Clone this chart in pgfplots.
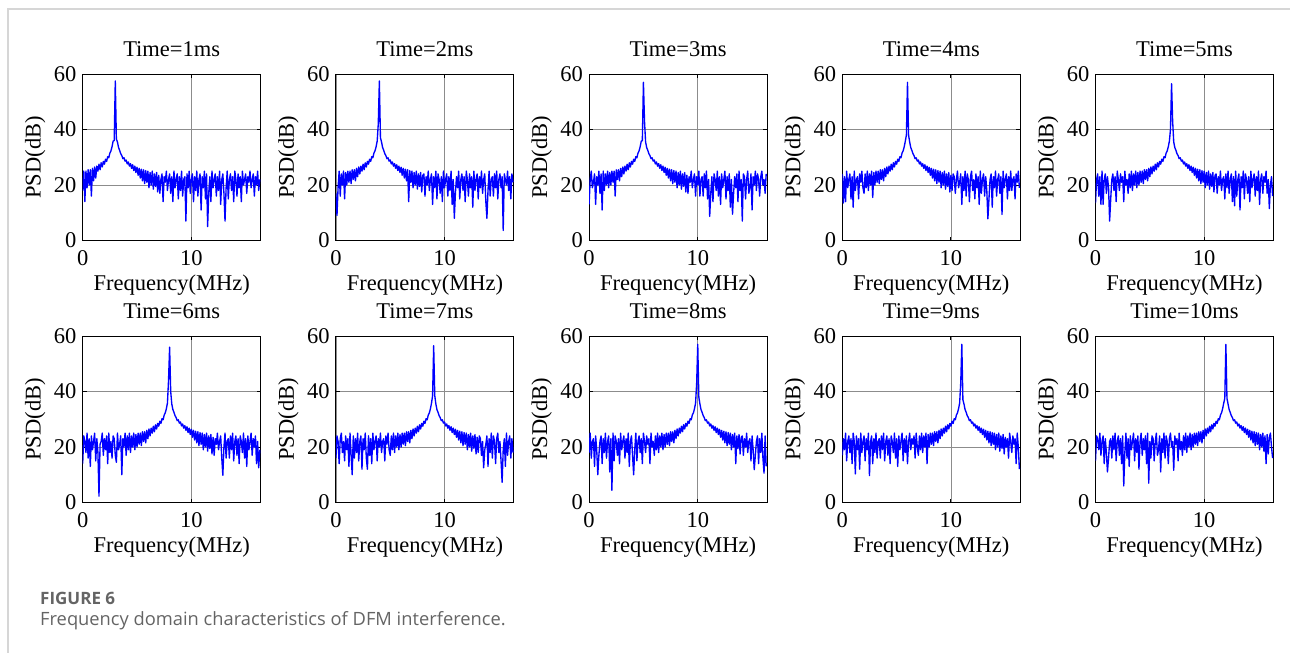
\documentclass[border=0pt]{standalone}
\usepackage{fontspec}
\setmainfont{Liberation Serif}
\newfontfamily\capfont{Open Sans}
\usepackage{pgfplots}
\pgfplotsset{compat=1.18}
\definecolor{psdblue}{RGB}{0,0,255}
\definecolor{capgray}{RGB}{100,100,100}
\newcommand\chartfont{\fontsize{22.5}{26}\selectfont}
\pgfplotsset{
  psd/.style={
    scale only axis, width=178pt, height=166.5pt, anchor=north west,
    xmin=0, xmax=16.384, ymin=0, ymax=60,
    xtick={0,10}, ytick={0,20,40,60},
    grid=major, major grid style={line width=0.7pt, draw=black!45},
    axis line style={line width=1pt, black},
    tick align=inside, major tick length=4pt,
    every tick/.style={black, line width=1pt},
    /pgf/number format/assume math mode=true,
    tick label style={font=\chartfont},
    every axis title/.style={at={(0.5,1)}, anchor=base, yshift=17.3pt, inner sep=0pt, font=\chartfont},
    every axis x label/.style={at={(0.5,0)}, anchor=base, yshift=-50pt, inner sep=0pt, font=\chartfont},
    every axis y label/.style={at={(0,0.5)}, anchor=base, xshift=-42pt, rotate=90, inner sep=0pt, font=\chartfont},
    xticklabel style={anchor=base, yshift=-24.5pt, inner sep=0pt},
    yticklabel style={anchor=east, xshift=-6pt, inner sep=0pt},
    xlabel={Frequency(MHz)}, ylabel={PSD(dB)},
  },
  psdline/.style={color=psdblue, line width=1.35pt, line join=round, mark=none},
}
\begin{document}
\begin{tikzpicture}
\useasboundingbox (0,0) rectangle (1290pt,-653pt);
\draw[line width=1.5pt, color=black!16] (8pt,-653pt) -- (8pt,-9pt) -- (1290pt,-9pt);

\begin{axis}[psd, at={(82.7pt,-74pt)}, title={Time=1ms}]
\addplot[psdline] coordinates {
(0,18)(0.1,25)(0.2,14)(0.3,25)(0.4,19)(0.5,25.5)(0.6,20)(0.7,25.5)(0.8,16)(0.9,26)
(1,21.5)(1.1,26.5)(1.2,22.5)(1.3,26.8)(1.4,25)(1.5,27.5)(1.6,25.5)(1.7,28)(1.8,26.5)(1.9,28.5)
(2,27.5)(2.1,29.3)(2.2,28.5)(2.3,30.2)(2.4,29.8)(2.5,31.5)(2.6,32.3)(2.7,33.8)(2.8,35.8)(2.9,36)
(3,57.5)(3.1,36.5)(3.2,35.5)(3.3,33.5)(3.4,32.5)(3.5,31.3)(3.6,30.6)(3.7,29.5)(3.8,29.8)(3.9,28.6)
(4,29)(4.1,27.6)(4.2,28.3)(4.3,26.8)(4.4,27.7)(4.5,26)(4.6,27.3)(4.7,25.2)(4.8,26.8)(4.9,24.5)
(5,26.4)(5.1,23.5)(5.2,26)(5.3,22.5)(5.4,25.7)(5.5,21.5)(5.6,25.5)(5.7,20.5)(5.8,25.2)(5.9,21)
(6,25)(6.1,19)(6.2,24.5)(6.3,20)(6.4,25)(6.5,18.5)(6.6,24)(6.7,19.5)(6.8,24.5)(6.9,17.5)
(7,23.5)(7.1,17)(7.2,22)(7.3,24)(7.4,14)(7.5,23)(7.6,21)(7.7,25)(7.8,18)(7.9,22)
(8,24)(8.1,17)(8.2,23)(8.3,14)(8.4,25)(8.5,19)(8.6,22)(8.7,24)(8.8,15)(8.9,23)
(9,18)(9.1,25)(9.2,16)(9.3,22)(9.4,23)(9.5,7)(9.6,24)(9.7,19)(9.8,25)(9.9,17)
(10,22)(10.1,24)(10.2,14)(10.3,23)(10.4,18)(10.5,25)(10.6,16)(10.7,22)(10.8,24)(10.9,11)
(11,23)(11.1,19)(11.2,25)(11.3,15)(11.4,24)(11.5,5)(11.6,17)(11.7,23)(11.8,14)(11.9,25)
(12,19)(12.1,22)(12.2,24)(12.3,16)(12.4,23)(12.5,18)(12.6,25)(12.7,13)(12.8,22)(12.9,24)
(13,17)(13.1,7)(13.2,19)(13.3,25)(13.4,15)(13.5,22)(13.6,24)(13.7,18)(13.8,23)(13.9,14)
(14,25)(14.1,22)(14.2,16)(14.3,24)(14.4,19)(14.5,23)(14.6,14)(14.7,25)(14.8,20)(14.9,22)
(15,24)(15.1,17)(15.2,23)(15.3,21)(15.4,25)(15.5,19)(15.6,22)(15.7,24)(15.8,16)(15.9,23)
(16,20)(16.1,25)(16.2,18)(16.3,22)
};
\end{axis}

\begin{axis}[psd, at={(335.9pt,-74pt)}, title={Time=2ms}]
\addplot[psdline] coordinates {
(0,17)(0.1,9)(0.2,19)(0.3,25)(0.4,16)(0.5,24)(0.6,20)(0.7,25)(0.8,15)(0.9,24.5)
(1,20)(1.1,25)(1.2,21)(1.3,25)(1.4,20.5)(1.5,25.5)(1.6,22)(1.7,25.5)(1.8,21.5)(1.9,26)
(2,23)(2.1,26.5)(2.2,24)(2.3,26.8)(2.4,25)(2.5,27.5)(2.6,25.5)(2.7,28)(2.8,26.5)(2.9,28.5)
(3,27.5)(3.1,29.3)(3.2,28.5)(3.3,30.2)(3.4,29.8)(3.5,31.5)(3.6,32.3)(3.7,33.8)(3.8,35.8)(3.9,42)
(4,57.5)(4.1,37)(4.2,35.5)(4.3,33.5)(4.4,32.5)(4.5,31.3)(4.6,30.6)(4.7,29.5)(4.8,29.8)(4.9,28.6)
(5,29)(5.1,27.6)(5.2,28.3)(5.3,26.8)(5.4,27.7)(5.5,26)(5.6,27.3)(5.7,25.2)(5.8,26.8)(5.9,24.5)
(6,26.4)(6.1,23.5)(6.2,26)(6.3,22.5)(6.4,25.7)(6.5,21.5)(6.6,25.5)(6.7,14)(6.8,25.2)(6.9,21)
(7,25)(7.1,19)(7.2,24.5)(7.3,20)(7.4,25)(7.5,18.5)(7.6,24)(7.7,19.5)(7.8,24.5)(7.9,17.5)
(8,23.5)(8.1,24)(8.2,16)(8.3,23)(8.4,20)(8.5,25)(8.6,18)(8.7,22)(8.8,24)(8.9,13)
(9,23)(9.1,19)(9.2,25)(9.3,15)(9.4,24)(9.5,22)(9.6,17)(9.7,23)(9.8,14)(9.9,25)
(10,19)(10.1,22)(10.2,24)(10.3,16)(10.4,23)(10.5,18)(10.6,25)(10.7,13)(10.8,22)(10.9,8)
(11,17)(11.1,23)(11.2,19)(11.3,25)(11.4,15)(11.5,22)(11.6,24)(11.7,18)(11.8,23)(11.9,14)
(12,25)(12.1,22)(12.2,16)(12.3,24)(12.4,19)(12.5,23)(12.6,12)(12.7,25)(12.8,18)(12.9,22)
(13,24)(13.1,15)(13.2,23)(13.3,19)(13.4,25)(13.5,17)(13.6,22)(13.7,24)(13.8,14)(13.9,8)
(14,18)(14.1,25)(14.2,16)(14.3,22)(14.4,23)(14.5,16)(14.6,24)(14.7,19)(14.8,25)(14.9,15)
(15,22)(15.1,24)(15.2,19)(15.3,23)(15.4,3.6)(15.5,24)(15.6,22)(15.7,20)(15.8,25)(15.9,18)
(16,23)(16.1,15)(16.2,24)(16.3,21)
};
\end{axis}

\begin{axis}[psd, at={(589.1pt,-74pt)}, title={Time=3ms}]
\addplot[psdline] coordinates {
(0,13)(0.1,22)(0.2,25)(0.3,19)(0.4,21)(0.5,24)(0.6,13)(0.7,23)(0.8,20)(0.9,25)
(1,17)(1.1,24)(1.2,11)(1.3,25)(1.4,18)(1.5,24)(1.6,20)(1.7,25)(1.8,19)(1.9,24.5)
(2,20)(2.1,25)(2.2,21)(2.3,25)(2.4,16)(2.5,25.5)(2.6,22)(2.7,25.5)(2.8,21.5)(2.9,26)
(3,23)(3.1,26.5)(3.2,24)(3.3,26.8)(3.4,25)(3.5,27.5)(3.6,25.5)(3.7,28)(3.8,26.5)(3.9,28.5)
(4,27.5)(4.1,29.3)(4.2,28.5)(4.3,30.2)(4.4,29.8)(4.5,31.5)(4.6,32.3)(4.7,33.8)(4.8,35.8)(4.9,36)
(5,57)(5.1,43)(5.2,35.5)(5.3,33.5)(5.4,32.5)(5.5,31.3)(5.6,30.6)(5.7,29.5)(5.8,29.8)(5.9,28.6)
(6,29)(6.1,27.6)(6.2,28.3)(6.3,26.8)(6.4,27.7)(6.5,26)(6.6,27.3)(6.7,25.2)(6.8,26.8)(6.9,24.5)
(7,26.4)(7.1,23.5)(7.2,26)(7.3,22.5)(7.4,25.7)(7.5,21.5)(7.6,25.5)(7.7,20.5)(7.8,25.2)(7.9,21)
(8,25)(8.1,19)(8.2,24.5)(8.3,20)(8.4,25)(8.5,18.5)(8.6,24)(8.7,19.5)(8.8,24.5)(8.9,17.5)
(9,23.5)(9.1,17)(9.2,23)(9.3,21)(9.4,25)(9.5,19)(9.6,22)(9.7,24)(9.8,16)(9.9,23)
(10,20)(10.1,25)(10.2,16)(10.3,22)(10.4,23)(10.5,16)(10.6,24)(10.7,19)(10.8,25)(10.9,15)
(11,22)(11.1,8.7)(11.2,17)(11.3,23)(11.4,14)(11.5,24)(11.6,22)(11.7,18)(11.8,25)(11.9,16)
(12,23)(12.1,13)(12.2,24)(12.3,19)(12.4,22)(12.5,25)(12.6,15)(12.7,23)(12.8,18)(12.9,24)
(13,12)(13.1,22)(13.2,9.5)(13.3,17)(13.4,23)(13.5,19)(13.6,24)(13.7,14)(13.8,25)(13.9,18)
(14,22)(14.1,7)(14.2,24)(14.3,23)(14.4,15)(14.5,22)(14.6,25)(14.7,17)(14.8,19)(14.9,24)
(15,11)(15.1,23)(15.2,20)(15.3,25)(15.4,18)(15.5,24)(15.6,22)(15.7,16)(15.8,23)(15.9,25)
(16,20)(16.1,22)(16.2,17)(16.3,24)
};
\end{axis}

\begin{axis}[psd, at={(842.3pt,-74pt)}, title={Time=4ms}]
\addplot[psdline] coordinates {
(0,24)(0.1,13.5)(0.2,23)(0.3,14)(0.4,25)(0.5,19)(0.6,22)(0.7,24)(0.8,15)(0.9,23)
(1,12)(1.1,25)(1.2,18)(1.3,22)(1.4,23)(1.5,15)(1.6,24)(1.7,21)(1.8,25)(1.9,19)
(2,17)(2.1,24)(2.2,19)(2.3,25)(2.4,18)(2.5,24)(2.6,20)(2.7,25)(2.8,15.5)(2.9,24.5)
(3,20)(3.1,25)(3.2,21)(3.3,25)(3.4,20.5)(3.5,25.5)(3.6,22)(3.7,25.5)(3.8,21.5)(3.9,26)
(4,23)(4.1,26.5)(4.2,24)(4.3,26.8)(4.4,25)(4.5,27.5)(4.6,25.5)(4.7,28)(4.8,26.5)(4.9,28.5)
(5,27.5)(5.1,29.3)(5.2,28.5)(5.3,30.2)(5.4,29.8)(5.5,31.5)(5.6,32.3)(5.7,33.8)(5.8,35.8)(5.9,38)
(6,57)(6.1,38)(6.2,35.5)(6.3,33.5)(6.4,32.5)(6.5,31.3)(6.6,30.6)(6.7,29.5)(6.8,29.8)(6.9,28.6)
(7,29)(7.1,27.6)(7.2,28.3)(7.3,26.8)(7.4,27.7)(7.5,26)(7.6,27.3)(7.7,25.2)(7.8,26.8)(7.9,24.5)
(8,26.4)(8.1,23.5)(8.2,26)(8.3,22.5)(8.4,25.7)(8.5,21.5)(8.6,25.5)(8.7,20.5)(8.8,25.2)(8.9,21)
(9,25)(9.1,19)(9.2,24.5)(9.3,20)(9.4,25)(9.5,18.5)(9.6,24)(9.7,19.5)(9.8,24.5)(9.9,17.5)
(10,23.5)(10.1,18)(10.2,24)(10.3,23)(10.4,17)(10.5,22)(10.6,25)(10.7,19)(10.8,21)(10.9,24)
(11,13)(11.1,23)(11.2,18)(11.3,25)(11.4,16)(11.5,24)(11.6,22)(11.7,14)(11.8,23)(11.9,25)
(12,18)(12.1,22)(12.2,15)(12.3,24)(12.4,19)(12.5,23)(12.6,13)(12.7,25)(12.8,17)(12.9,22)
(13,24)(13.1,16)(13.2,23)(13.3,18)(13.4,7.8)(13.5,15)(13.6,22)(13.7,24)(13.8,12)(13.9,23)
(14,19)(14.1,25)(14.2,16)(14.3,22)(14.4,24)(14.5,17)(14.6,23)(14.7,9.4)(14.8,25)(14.9,19)
(15,22)(15.1,24)(15.2,15)(15.3,23)(15.4,18)(15.5,25)(15.6,18)(15.7,22)(15.8,23)(15.9,15)
(16,24)(16.1,21)(16.2,25)(16.3,19)
};
\end{axis}

\begin{axis}[psd, at={(1095.5pt,-74pt)}, title={Time=5ms}]
\addplot[psdline] coordinates {
(0,13.5)(0.1,22)(0.2,24)(0.3,16)(0.4,23)(0.5,13)(0.6,25)(0.7,13)(0.8,22)(0.9,24)
(1,17)(1.1,23)(1.2,19)(1.3,7)(1.4,15)(1.5,22)(1.6,24)(1.7,18)(1.8,23)(1.9,14)
(2,25)(2.1,22)(2.2,18)(2.3,24)(2.4,21)(2.5,23)(2.6,14)(2.7,25)(2.8,20)(2.9,22)
(3,17)(3.1,24)(3.2,19)(3.3,25)(3.4,18)(3.5,24)(3.6,20)(3.7,25)(3.8,19)(3.9,24.5)
(4,20)(4.1,25)(4.2,21)(4.3,25)(4.4,20.5)(4.5,25.5)(4.6,22)(4.7,25.5)(4.8,21.5)(4.9,26)
(5,23)(5.1,26.5)(5.2,24)(5.3,26.8)(5.4,25)(5.5,27.5)(5.6,25.5)(5.7,28)(5.8,26.5)(5.9,28.5)
(6,27.5)(6.1,29.3)(6.2,28.5)(6.3,30.2)(6.4,29.8)(6.5,31.5)(6.6,32.3)(6.7,33.8)(6.8,35.8)(6.9,40)
(7,56.5)(7.1,43)(7.2,35.5)(7.3,33.5)(7.4,32.5)(7.5,31.3)(7.6,30.6)(7.7,29.5)(7.8,29.8)(7.9,28.6)
(8,29)(8.1,27.6)(8.2,28.3)(8.3,26.8)(8.4,27.7)(8.5,26)(8.6,27.3)(8.7,25.2)(8.8,26.8)(8.9,24.5)
(9,26.4)(9.1,23.5)(9.2,26)(9.3,22.5)(9.4,25.7)(9.5,21.5)(9.6,25.5)(9.7,20.5)(9.8,25.2)(9.9,21)
(10,25)(10.1,19)(10.2,24.5)(10.3,20)(10.4,25)(10.5,18.5)(10.6,24)(10.7,19.5)(10.8,24.5)(10.9,17.5)
(11,23.5)(11.1,24)(11.2,17)(11.3,23)(11.4,20)(11.5,25)(11.6,18)(11.7,22)(11.8,23)(11.9,15)
(12,24)(12.1,19)(12.2,25)(12.3,17)(12.4,22)(12.5,24)(12.6,14)(12.7,23)(12.8,12.5)(12.9,25)
(13,16)(13.1,22)(13.2,24)(13.3,11)(13.4,23)(13.5,19)(13.6,25)(13.7,15)(13.8,24)(13.9,22)
(14,17)(14.1,23)(14.2,14)(14.3,25)(14.4,19)(14.5,22)(14.6,24)(14.7,16)(14.8,23)(14.9,18)
(15,25)(15.1,13)(15.2,22)(15.3,24)(15.4,17)(15.5,23)(15.6,21)(15.7,25)(15.8,17)(15.9,22)
(16,11.5)(16.1,20)(16.2,23)(16.3,16)
};
\end{axis}

\begin{axis}[psd, at={(82.7pt,-336pt)}, title={Time=6ms}]
\addplot[psdline] coordinates {
(0,14)(0.1,24)(0.2,22)(0.3,18)(0.4,25)(0.5,16)(0.6,23)(0.7,13)(0.8,24)(0.9,19)
(1,22)(1.1,25)(1.2,15)(1.3,23)(1.4,18)(1.5,2.3)(1.6,21)(1.7,22)(1.8,25)(1.9,17)
(2,23)(2.1,19)(2.2,24)(2.3,14)(2.4,25)(2.5,18)(2.6,22)(2.7,16)(2.8,24)(2.9,23)
(3,17)(3.1,14.5)(3.2,25)(3.3,19)(3.4,21)(3.5,24)(3.6,10)(3.7,23)(3.8,20)(3.9,25)
(4,17)(4.1,24)(4.2,19)(4.3,25)(4.4,18)(4.5,24)(4.6,20)(4.7,25)(4.8,19)(4.9,24.5)
(5,20)(5.1,25)(5.2,21)(5.3,25)(5.4,20.5)(5.5,25.5)(5.6,22)(5.7,25.5)(5.8,21.5)(5.9,26)
(6,23)(6.1,26.5)(6.2,24)(6.3,26.8)(6.4,25)(6.5,27.5)(6.6,25.5)(6.7,28)(6.8,26.5)(6.9,28.5)
(7,27.5)(7.1,29.3)(7.2,28.5)(7.3,30.2)(7.4,29.8)(7.5,31.5)(7.6,32.3)(7.7,33.8)(7.8,35.8)(7.9,44)
(8,56)(8.1,40)(8.2,35.5)(8.3,33.5)(8.4,32.5)(8.5,31.3)(8.6,30.6)(8.7,29.5)(8.8,29.8)(8.9,28.6)
(9,29)(9.1,27.6)(9.2,28.3)(9.3,26.8)(9.4,27.7)(9.5,26)(9.6,27.3)(9.7,25.2)(9.8,26.8)(9.9,24.5)
(10,26.4)(10.1,23.5)(10.2,26)(10.3,22.5)(10.4,25.7)(10.5,21.5)(10.6,25.5)(10.7,20.5)(10.8,25.2)(10.9,21)
(11,25)(11.1,19)(11.2,24.5)(11.3,20)(11.4,25)(11.5,18.5)(11.6,24)(11.7,19.5)(11.8,24.5)(11.9,17.5)
(12,23.5)(12.1,17)(12.2,23)(12.3,21)(12.4,25)(12.5,19)(12.6,22)(12.7,24)(12.8,16)(12.9,9.8)
(13,20)(13.1,25)(13.2,16)(13.3,22)(13.4,23)(13.5,16)(13.6,24)(13.7,19)(13.8,25)(13.9,15)
(14,22)(14.1,24)(14.2,17)(14.3,23)(14.4,14)(14.5,24)(14.6,22)(14.7,18)(14.8,25)(14.9,16)
(15,23)(15.1,13)(15.2,24)(15.3,19)(15.4,22)(15.5,25)(15.6,17)(15.7,23)(15.8,20)(15.9,24)
(16,14)(16.1,22)(16.2,12.5)(16.3,19)
};
\end{axis}

\begin{axis}[psd, at={(335.9pt,-336pt)}, title={Time=7ms}]
\addplot[psdline] coordinates {
(0,16)(0.1,24)(0.2,22)(0.3,14)(0.4,23)(0.5,25)(0.6,18)(0.7,22)(0.8,15)(0.9,24)
(1,19)(1.1,23)(1.2,13)(1.3,25)(1.4,17)(1.5,10)(1.6,24)(1.7,16)(1.8,23)(1.9,18)
(2,25)(2.1,15)(2.2,22)(2.3,24)(2.4,12)(2.5,23)(2.6,19)(2.7,25)(2.8,16)(2.9,12)
(3,24)(3.1,17)(3.2,23)(3.3,14)(3.4,25)(3.5,19)(3.6,22)(3.7,24)(3.8,15)(3.9,23)
(4,20)(4.1,25)(4.2,18)(4.3,22)(4.4,23)(4.5,15)(4.6,24)(4.7,21)(4.8,25)(4.9,19)
(5,17)(5.1,24)(5.2,19)(5.3,25)(5.4,18)(5.5,24)(5.6,20)(5.7,25)(5.8,19)(5.9,24.5)
(6,20)(6.1,25)(6.2,21)(6.3,25)(6.4,20.5)(6.5,25.5)(6.6,22)(6.7,25.5)(6.8,21.5)(6.9,26)
(7,23)(7.1,26.5)(7.2,24)(7.3,26.8)(7.4,25)(7.5,27.5)(7.6,25.5)(7.7,28)(7.8,26.5)(7.9,28.5)
(8,27.5)(8.1,29.3)(8.2,28.5)(8.3,30.2)(8.4,29.8)(8.5,31.5)(8.6,32.3)(8.7,33.8)(8.8,35.8)(8.9,38.5)
(9,56.5)(9.1,38.5)(9.2,35.5)(9.3,33.5)(9.4,32.5)(9.5,31.3)(9.6,30.6)(9.7,29.5)(9.8,29.8)(9.9,28.6)
(10,29)(10.1,27.6)(10.2,28.3)(10.3,26.8)(10.4,27.7)(10.5,26)(10.6,27.3)(10.7,25.2)(10.8,26.8)(10.9,24.5)
(11,26.4)(11.1,23.5)(11.2,26)(11.3,22.5)(11.4,25.7)(11.5,21.5)(11.6,25.5)(11.7,20.5)(11.8,25.2)(11.9,21)
(12,25)(12.1,19)(12.2,24.5)(12.3,20)(12.4,25)(12.5,18.5)(12.6,24)(12.7,19.5)(12.8,24.5)(12.9,17.5)
(13,23.5)(13.1,18)(13.2,24)(13.3,23)(13.4,17)(13.5,22)(13.6,12.5)(13.7,19)(13.8,21)(13.9,24)
(14,13)(14.1,23)(14.2,18)(14.3,25)(14.4,16)(14.5,24)(14.6,22)(14.7,14)(14.8,23)(14.9,25)
(15,18)(15.1,22)(15.2,15)(15.3,7.3)(15.4,19)(15.5,23)(15.6,13)(15.7,25)(15.8,17)(15.9,22)
(16,24)(16.1,16)(16.2,23)(16.3,18)
};
\end{axis}

\begin{axis}[psd, at={(589.1pt,-336pt)}, title={Time=8ms}]
\addplot[psdline] coordinates {
(0,18)(0.1,25)(0.2,16)(0.3,22)(0.4,23)(0.5,13)(0.6,24)(0.7,19)(0.8,10)(0.9,17)
(1,22)(1.1,24)(1.2,14)(1.3,23)(1.4,18)(1.5,25)(1.6,16)(1.7,22)(1.8,24)(1.9,11)
(2,23)(2.1,4.4)(2.2,25)(2.3,15)(2.4,24)(2.5,22)(2.6,17)(2.7,23)(2.8,14)(2.9,25)
(3,19)(3.1,22)(3.2,24)(3.3,16)(3.4,23)(3.5,18)(3.6,25)(3.7,13)(3.8,22)(3.9,24)
(4,17)(4.1,10)(4.2,19)(4.3,25)(4.4,15)(4.5,22)(4.6,24)(4.7,18)(4.8,23)(4.9,14)
(5,25)(5.1,22)(5.2,18)(5.3,24)(5.4,21)(5.5,23)(5.6,14)(5.7,25)(5.8,20)(5.9,22)
(6,17)(6.1,24)(6.2,19)(6.3,25)(6.4,18)(6.5,24)(6.6,20)(6.7,25)(6.8,19)(6.9,24.5)
(7,20)(7.1,25)(7.2,21)(7.3,25)(7.4,20.5)(7.5,25.5)(7.6,22)(7.7,25.5)(7.8,21.5)(7.9,26)
(8,23)(8.1,26.5)(8.2,24)(8.3,26.8)(8.4,25)(8.5,27.5)(8.6,25.5)(8.7,28)(8.8,26.5)(8.9,28.5)
(9,27.5)(9.1,29.3)(9.2,28.5)(9.3,30.2)(9.4,29.8)(9.5,31.5)(9.6,32.3)(9.7,33.8)(9.8,35.8)(9.9,43)
(10,57)(10.1,38)(10.2,35.5)(10.3,33.5)(10.4,32.5)(10.5,31.3)(10.6,30.6)(10.7,29.5)(10.8,29.8)(10.9,28.6)
(11,29)(11.1,27.6)(11.2,28.3)(11.3,26.8)(11.4,27.7)(11.5,26)(11.6,27.3)(11.7,25.2)(11.8,26.8)(11.9,24.5)
(12,26.4)(12.1,23.5)(12.2,26)(12.3,22.5)(12.4,25.7)(12.5,21.5)(12.6,25.5)(12.7,20.5)(12.8,25.2)(12.9,21)
(13,25)(13.1,19)(13.2,24.5)(13.3,20)(13.4,25)(13.5,14)(13.6,24)(13.7,19.5)(13.8,24.5)(13.9,17.5)
(14,23.5)(14.1,24)(14.2,17)(14.3,23)(14.4,20)(14.5,25)(14.6,18)(14.7,22)(14.8,23)(14.9,15)
(15,24)(15.1,19)(15.2,11.8)(15.3,17)(15.4,22)(15.5,24)(15.6,14)(15.7,23)(15.8,18)(15.9,25)
(16,16)(16.1,10.6)(16.2,24)(16.3,13)
};
\end{axis}

\begin{axis}[psd, at={(842.3pt,-336pt)}, title={Time=9ms}]
\addplot[psdline] coordinates {
(0,17)(0.1,23)(0.2,19)(0.3,25)(0.4,15)(0.5,22)(0.6,24)(0.7,18)(0.8,23)(0.9,14)
(1,25)(1.1,22)(1.2,10.3)(1.3,24)(1.4,19)(1.5,23)(1.6,12)(1.7,25)(1.8,18)(1.9,22)
(2,24)(2.1,15)(2.2,23)(2.3,19)(2.4,25)(2.5,9.7)(2.6,22)(2.7,24)(2.8,14)(2.9,23)
(3,18)(3.1,25)(3.2,16)(3.3,22)(3.4,23)(3.5,16)(3.6,24)(3.7,19)(3.8,25)(3.9,15)
(4,22)(4.1,24)(4.2,17)(4.3,23)(4.4,14)(4.5,24)(4.6,22)(4.7,18)(4.8,25)(4.9,16)
(5,23)(5.1,13)(5.2,24)(5.3,19)(5.4,22)(5.5,25)(5.6,15)(5.7,23)(5.8,18)(5.9,24)
(6,14)(6.1,22)(6.2,25)(6.3,19)(6.4,23)(6.5,21)(6.6,24)(6.7,16)(6.8,25)(6.9,20)
(7,17)(7.1,24)(7.2,19)(7.3,25)(7.4,18)(7.5,24)(7.6,20)(7.7,25)(7.8,14)(7.9,24.5)
(8,20)(8.1,25)(8.2,21)(8.3,25)(8.4,20.5)(8.5,25.5)(8.6,22)(8.7,25.5)(8.8,21.5)(8.9,26)
(9,23)(9.1,26.5)(9.2,24)(9.3,26.8)(9.4,25)(9.5,27.5)(9.6,25.5)(9.7,28)(9.8,26.5)(9.9,28.5)
(10,27.5)(10.1,29.3)(10.2,28.5)(10.3,30.2)(10.4,29.8)(10.5,31.5)(10.6,32.3)(10.7,33.8)(10.8,35.8)(10.9,43)
(11,57)(11.1,37)(11.2,35.5)(11.3,33.5)(11.4,32.5)(11.5,31.3)(11.6,30.6)(11.7,29.5)(11.8,29.8)(11.9,28.6)
(12,29)(12.1,27.6)(12.2,28.3)(12.3,26.8)(12.4,27.7)(12.5,26)(12.6,27.3)(12.7,25.2)(12.8,26.8)(12.9,24.5)
(13,26.4)(13.1,23.5)(13.2,26)(13.3,22.5)(13.4,25.7)(13.5,21.5)(13.6,25.5)(13.7,20.5)(13.8,25.2)(13.9,21)
(14,25)(14.1,19)(14.2,24.5)(14.3,20)(14.4,25)(14.5,18.5)(14.6,24)(14.7,19.5)(14.8,24.5)(14.9,17.5)
(15,23.5)(15.1,20)(15.2,23)(15.3,16)(15.4,25)(15.5,22)(15.6,18)(15.7,24)(15.8,21)(15.9,23)
(16,14)(16.1,25)(16.2,20)(16.3,12)
};
\end{axis}

\begin{axis}[psd, at={(1095.5pt,-336pt)}, title={Time=10ms}]
\addplot[psdline] coordinates {
(0,15)(0.1,24)(0.2,23)(0.3,19)(0.4,25)(0.5,17)(0.6,22)(0.7,24)(0.8,14)(0.9,23)
(1,18)(1.1,11)(1.2,16)(1.3,22)(1.4,23)(1.5,16)(1.6,24)(1.7,19)(1.8,25)(1.9,15)
(2,22)(2.1,24)(2.2,17)(2.3,23)(2.4,14)(2.5,24)(2.6,6)(2.7,18)(2.8,25)(2.9,16)
(3,23)(3.1,13)(3.2,24)(3.3,19)(3.4,22)(3.5,25)(3.6,15)(3.7,23)(3.8,18)(3.9,24)
(4,12)(4.1,22)(4.2,25)(4.3,17)(4.4,23)(4.5,19)(4.6,24)(4.7,14)(4.8,25)(4.9,7)
(5,22)(5.1,16)(5.2,24)(5.3,23)(5.4,15)(5.5,22)(5.6,25)(5.7,17)(5.8,19)(5.9,24)
(6,11)(6.1,23)(6.2,18)(6.3,25)(6.4,16)(6.5,24)(6.6,22)(6.7,14)(6.8,23)(6.9,25)
(7,20)(7.1,22)(7.2,11.6)(7.3,24)(7.4,21)(7.5,23)(7.6,15)(7.7,25)(7.8,19)(7.9,22)
(8,17)(8.1,24)(8.2,19)(8.3,25)(8.4,18)(8.5,24)(8.6,20)(8.7,25)(8.8,19)(8.9,24.5)
(9,20)(9.1,25)(9.2,21)(9.3,25)(9.4,20.5)(9.5,25.5)(9.6,22)(9.7,25.5)(9.8,21.5)(9.9,26)
(10,23)(10.1,26.5)(10.2,24)(10.3,26.8)(10.4,25)(10.5,27.5)(10.6,25.5)(10.7,28)(10.8,26.5)(10.9,28.5)
(11,27.5)(11.1,29.3)(11.2,28.5)(11.3,30.2)(11.4,29.8)(11.5,31.5)(11.6,32.3)(11.7,33.8)(11.8,35.8)(11.9,37.5)
(12,57)(12.1,37.5)(12.2,35.5)(12.3,33.5)(12.4,32.5)(12.5,31.3)(12.6,30.6)(12.7,29.5)(12.8,29.8)(12.9,28.6)
(13,29)(13.1,27.6)(13.2,28.3)(13.3,26.8)(13.4,27.7)(13.5,26)(13.6,27.3)(13.7,25.2)(13.8,26.8)(13.9,24.5)
(14,26.4)(14.1,23.5)(14.2,26)(14.3,22.5)(14.4,25.7)(14.5,21.5)(14.6,25.5)(14.7,20.5)(14.8,25.2)(14.9,21)
(15,25)(15.1,19)(15.2,24.5)(15.3,20)(15.4,25)(15.5,18.5)(15.6,24)(15.7,14)(15.8,24.5)(15.9,17.5)
(16,23.5)(16.1,25)(16.2,20)(16.3,16)
};
\end{axis}

\node[anchor=base west, inner sep=0pt, text=capgray, font=\fontsize{17}{20}\capfont\bfseries] at (40pt,-604pt) {FIGURE 6};
\node[anchor=base west, inner sep=0pt, text=capgray, font=\fontsize{18.3}{21}\capfont] at (40pt,-625pt) {Frequency domain characteristics of DFM interference.};
\end{tikzpicture}
\end{document}
